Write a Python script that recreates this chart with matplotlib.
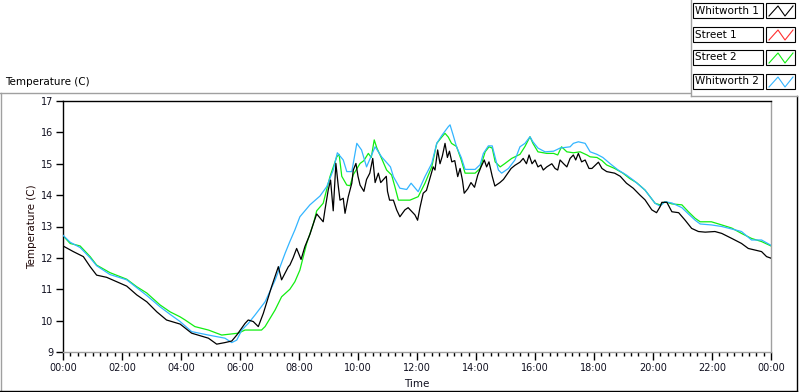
import matplotlib
matplotlib.use("Agg")
import matplotlib.pyplot as plt
from matplotlib.lines import Line2D
from matplotlib.patches import Rectangle
from matplotlib.ticker import FixedLocator, MultipleLocator

# ---------------- data (hours since midnight, degrees C) ----------------
w1_t = [0.0, 0.35, 0.69, 0.92, 1.14, 1.48, 1.82, 2.16, 2.5, 2.84, 3.18, 3.51, 3.97,
        4.36, 4.93, 5.21, 5.49, 5.72, 5.89, 6.17, 6.28, 6.45, 6.62, 6.79, 7.07, 7.3,
        7.41, 7.64, 7.69, 7.8, 7.92, 8.07, 8.2, 8.37, 8.49, 8.6, 8.82, 8.88, 8.99,
        9.07, 9.16, 9.25, 9.33, 9.39, 9.5, 9.56, 9.67, 9.79, 9.84, 9.93, 10.0, 10.07,
        10.2, 10.29, 10.4, 10.5, 10.58, 10.69, 10.77, 10.96, 11.0, 11.07, 11.2, 11.31,
        11.42, 11.59, 11.7, 11.8, 11.93, 12.02, 12.1, 12.21, 12.32, 12.44, 12.55,
        12.61, 12.7, 12.78, 12.86, 12.95, 13.03, 13.1, 13.18, 13.28, 13.38, 13.46,
        13.54, 13.6, 13.72, 13.83, 13.95, 14.06, 14.17, 14.28, 14.36, 14.44, 14.55,
        14.64, 14.81, 14.93, 15.04, 15.19, 15.32, 15.49, 15.6, 15.71, 15.8, 15.9, 16.0,
        16.1, 16.2, 16.28, 16.4, 16.57, 16.68, 16.77, 16.85, 16.97, 17.08, 17.19, 17.3,
        17.38, 17.47, 17.58, 17.7, 17.83, 17.93, 18.04, 18.15, 18.27, 18.43, 18.7,
        18.89, 19.1, 19.33, 19.56, 19.73, 19.96, 20.12, 20.24, 20.3, 20.47, 20.64,
        20.87, 21.09, 21.31, 21.54, 21.77, 22.1, 22.33, 22.67, 23.0, 23.23, 23.45,
        23.68, 23.85, 24.0]
w1_v = [12.38, 12.2, 12.04, 11.72, 11.45, 11.38, 11.24, 11.1, 10.82, 10.6, 10.28, 10.02, 9.89,
        9.6, 9.44, 9.25, 9.3, 9.35, 9.54, 9.91, 10.02, 9.97, 9.81, 10.23, 11.08, 11.72,
        11.3, 11.72, 11.77, 12.0, 12.3, 11.95, 12.36, 12.75, 13.1, 13.4, 13.15, 13.53, 14.16,
        14.48, 13.5, 15.01, 14.3, 13.84, 13.9, 13.42, 13.95, 14.38, 14.8, 15.01, 14.6, 14.32,
        14.12, 14.5, 14.7, 15.17, 14.4, 14.7, 14.4, 14.6, 14.12, 13.84, 13.84, 13.53,
        13.31, 13.53, 13.6, 13.5, 13.37, 13.2, 13.6, 14.06, 14.15, 14.54, 14.9,
        14.8, 15.44, 15.0, 15.25, 15.65, 15.2, 15.4, 15.06, 15.1, 14.59, 14.85,
        14.48, 14.06, 14.2, 14.4, 14.25, 14.64, 14.9, 15.12, 14.9, 15.06, 14.6,
        14.29, 14.4, 14.5, 14.65, 14.85, 14.95, 15.05, 15.17, 15.0, 15.28, 15.0, 15.12,
        14.9, 14.96, 14.8, 14.9, 15.0, 14.85, 14.8, 15.12, 15.0, 14.9, 15.17, 15.28,
        15.12, 15.33, 15.06, 15.12, 14.85, 14.85, 14.95, 15.05, 14.85, 14.75, 14.7,
        14.6, 14.38, 14.22, 14.0, 13.85, 13.53, 13.44, 13.63, 13.77, 13.77, 13.47,
        13.44, 13.2, 12.94, 12.84, 12.82, 12.84, 12.78, 12.62, 12.46, 12.3, 12.25,
        12.2, 12.04, 11.99]

s1_t = []
s1_v = []

s2_t = [0.0, 0.24, 0.58, 0.92, 1.14, 1.59, 2.16, 2.5, 2.84, 3.29, 3.63, 3.97, 4.14, 4.47,
        4.93, 5.38, 5.94, 6.17, 6.73, 6.85, 7.19, 7.41, 7.69, 7.86, 8.03, 8.26, 8.49, 8.6,
        8.82, 9.05, 9.28, 9.36, 9.45, 9.62, 9.73, 9.84, 10.07, 10.2, 10.35, 10.45, 10.55,
        10.64, 10.8, 10.97, 11.14, 11.25, 11.37, 11.76, 12.04, 12.27, 12.5, 12.67, 12.84,
        12.95, 13.06, 13.17, 13.34, 13.5, 13.63, 13.97, 14.14, 14.31, 14.44, 14.55, 14.65,
        14.82, 14.97, 15.21, 15.49, 15.66, 15.83, 15.93, 16.1, 16.4, 16.63, 16.77, 16.9,
        17.08, 17.3, 17.53, 17.76, 17.87, 18.1, 18.27, 18.43, 18.7, 18.98, 19.21, 19.44,
        19.73, 20.07, 20.24, 20.41, 20.64, 20.98, 21.2, 21.43, 21.6, 21.98, 22.33, 22.67,
        23.0, 23.34, 23.68, 24.0]
s2_v = [12.71, 12.46, 12.38, 12.04, 11.77, 11.53, 11.32, 11.08, 10.88, 10.5, 10.28, 10.12, 10.02, 9.81,
        9.7, 9.54, 9.6, 9.7, 9.7, 9.81, 10.34, 10.76, 11.0, 11.24, 11.61, 12.46, 13.1, 13.5,
        13.74, 14.59, 15.22, 15.3, 14.6, 14.32, 14.3, 14.65, 15.01, 15.1, 15.33, 15.2, 15.76,
        15.5, 15.17, 14.8, 14.64, 14.27, 13.84, 13.84, 13.95, 14.38, 14.9, 15.65, 15.85,
        15.97, 15.85, 15.65, 15.55, 15.12, 14.7, 14.7, 14.85, 15.38, 15.54, 15.5, 15.06,
        14.9, 15.0, 15.17, 15.3, 15.55, 15.86, 15.65, 15.38, 15.33, 15.33, 15.28, 15.54,
        15.38, 15.35, 15.38, 15.28, 15.22, 15.2, 15.1, 14.96, 14.85, 14.7, 14.53, 14.4,
        14.16, 13.74, 13.69, 13.79, 13.72, 13.69, 13.47, 13.26, 13.15, 13.15, 13.05, 12.95,
        12.78, 12.62, 12.52, 12.38]

w2_t = [0.0, 0.24, 0.58, 0.92, 1.14, 1.59, 2.16, 2.5, 2.84, 3.29, 3.63, 3.97, 4.36, 4.93,
        5.49, 5.72, 5.89, 6.06, 6.28, 6.51, 6.85, 7.19, 7.53, 7.69, 7.86, 8.03, 8.37, 8.71,
        8.94, 9.16, 9.3, 9.5, 9.62, 9.79, 9.96, 10.12, 10.29, 10.58, 10.8, 11.1, 11.2,
        11.42, 11.65, 11.8, 12.04, 12.27, 12.5, 12.67, 12.84, 13.06, 13.12, 13.23, 13.34,
        13.5, 13.63, 13.97, 14.14, 14.25, 14.42, 14.55, 14.65, 14.76, 14.87, 15.1, 15.32,
        15.49, 15.66, 15.83, 15.93, 16.1, 16.34, 16.63, 16.85, 17.19, 17.3, 17.47, 17.7,
        17.87, 18.1, 18.3, 18.55, 18.82, 19.1, 19.33, 19.56, 19.73, 20.07, 20.24, 20.41,
        20.64, 20.98, 21.2, 21.43, 21.6, 21.98, 22.33, 22.67, 23.0, 23.34, 23.68, 24.0]
w2_v = [12.72, 12.5, 12.33, 12.0, 11.75, 11.47, 11.3, 11.05, 10.8, 10.44, 10.2, 9.97, 9.65, 9.54,
        9.44, 9.3, 9.38, 9.7, 9.91, 10.18, 10.6, 11.29, 12.15, 12.52, 12.89, 13.31, 13.69, 13.97,
        14.27, 14.8, 15.35, 15.12, 14.75, 14.75, 15.65, 15.44, 14.9, 15.54, 15.22, 14.9, 14.59,
        14.22, 14.18, 14.38, 14.11, 14.59, 15.01, 15.65, 15.9, 16.18, 16.24, 15.9, 15.54,
        15.2, 14.82, 14.82, 14.97, 15.33, 15.57, 15.57, 15.2, 14.8, 14.7, 14.85, 15.12,
        15.54, 15.65, 15.86, 15.7, 15.5, 15.38, 15.4, 15.5, 15.54, 15.65, 15.7, 15.65,
        15.38, 15.3, 15.2, 15.0, 14.8, 14.64, 14.48, 14.3, 14.16, 13.74, 13.65, 13.79,
        13.75, 13.6, 13.4, 13.2, 13.08, 13.05, 13.0, 12.92, 12.84, 12.57, 12.57, 12.4]

series_names = ["Whitworth 1", "Street 1", "Street 2", "Whitworth 2"]
x_ticks = [0, 2, 4, 6, 8, 10, 12, 14, 16, 18, 20, 22, 24]
x_tick_labels = ["00:00", "02:00", "04:00", "06:00", "08:00", "10:00", "12:00",
                 "14:00", "16:00", "18:00", "20:00", "22:00", "00:00"]
y_ticks = [9, 10, 11, 12, 13, 14, 15, 16, 17]

colors = ["#000000", "#ff3030", "#11ee11", "#33b5ff"]

# ---------------- figure ----------------
W, H = 800, 392
fig = plt.figure(figsize=(W / 100, H / 100), dpi=100)
fig.patch.set_facecolor("white")
plt.rcParams["font.family"] = ["DejaVu Sans"]


def fx(x):
    return x / W


def fy(y):
    return 1 - y / H


ax = fig.add_axes([fx(63), fy(352), fx(771) - fx(63), fy(101) - fy(352)])
datasets = [(w1_t, w1_v), (s1_t, s1_v), (s2_t, s2_v), (w2_t, w2_v)]
for (t, v), c, name, z in zip(datasets, colors, series_names, [4, 3, 2, 3]):
    ax.plot(t, v, color=c, lw=0.9, label=name, zorder=z)

ax.set_xlim(0, 24)
ax.set_ylim(9, 17)
ax.xaxis.set_major_locator(FixedLocator(x_ticks))
ax.set_xticklabels(x_tick_labels)
ax.xaxis.set_minor_locator(MultipleLocator(0.25))
ax.yaxis.set_major_locator(FixedLocator(y_ticks))
ax.tick_params(axis="both", which="major", labelsize=7, color="black",
               labelcolor="#101020", width=1)
ax.tick_params(axis="x", which="major", length=6, pad=2)
ax.tick_params(axis="x", which="minor", length=3, width=1, color="black")
ax.tick_params(axis="y", which="major", length=5, pad=2)
for s in ["left", "top"]:
    ax.spines[s].set_color("black")
for s in ["right", "bottom"]:
    ax.spines[s].set_color("#a0a0a0")
for s in ax.spines.values():
    s.set_linewidth(1)

fig.text(fx(32), fy(226.5), "Temperature (C)", rotation=90, ha="center",
         va="center", fontsize=7.5, color="#200808")
fig.text(fx(417), fy(384), "Time", ha="center", va="center", fontsize=7.5,
         color="#101020")
fig.text(fx(5), fy(82), "Temperature (C)", ha="left", va="center",
         fontsize=7.5, color="black")

# panel frame
def fline(x0, y0, x1, y1, color, lw=1.0):
    fig.add_artist(Line2D([fx(x0), fx(x1)], [fy(y0), fy(y1)], color=color,
                          lw=lw, transform=fig.transFigure))


fline(0, 92.5, 690, 92.5, "#a0a0a0")
fline(1, 92.5, 1, 390, "#a0a0a0")
fline(0, 390.5, 797, 390.5, "black")
fline(796.5, 96, 796.5, 390.5, "black")
fline(690.5, 0, 690.5, 96, "#a0a0a0")
fline(690.5, 96, 797, 96, "#a0a0a0")

# legend (LabVIEW style plot legend)
rows = [3, 27, 50, 74]
for name, c, y0 in zip(series_names, colors, rows):
    fig.add_artist(Rectangle((fx(692.5), fy(y0 + 15)), fx(763) - fx(692.5),
                             fy(y0) - fy(y0 + 15), facecolor="white",
                             edgecolor="black", lw=0.8,
                             transform=fig.transFigure))
    fig.text(fx(695), fy(y0 + 7.5), name, ha="left", va="center",
             fontsize=7.5, color="black")
    fig.add_artist(Rectangle((fx(766), fy(y0 + 15)), fx(795) - fx(766),
                             fy(y0) - fy(y0 + 15), facecolor="white",
                             edgecolor="black", lw=0.8,
                             transform=fig.transFigure))
    xs = [769, 778, 785, 793]
    ys = [y0 + 13, y0 + 3, y0 + 13, y0 + 3]
    fig.add_artist(Line2D([fx(v) for v in xs], [fy(v) for v in ys], color=c,
                          lw=0.8, transform=fig.transFigure))

fig.savefig("out.png", dpi=100, facecolor="white")
